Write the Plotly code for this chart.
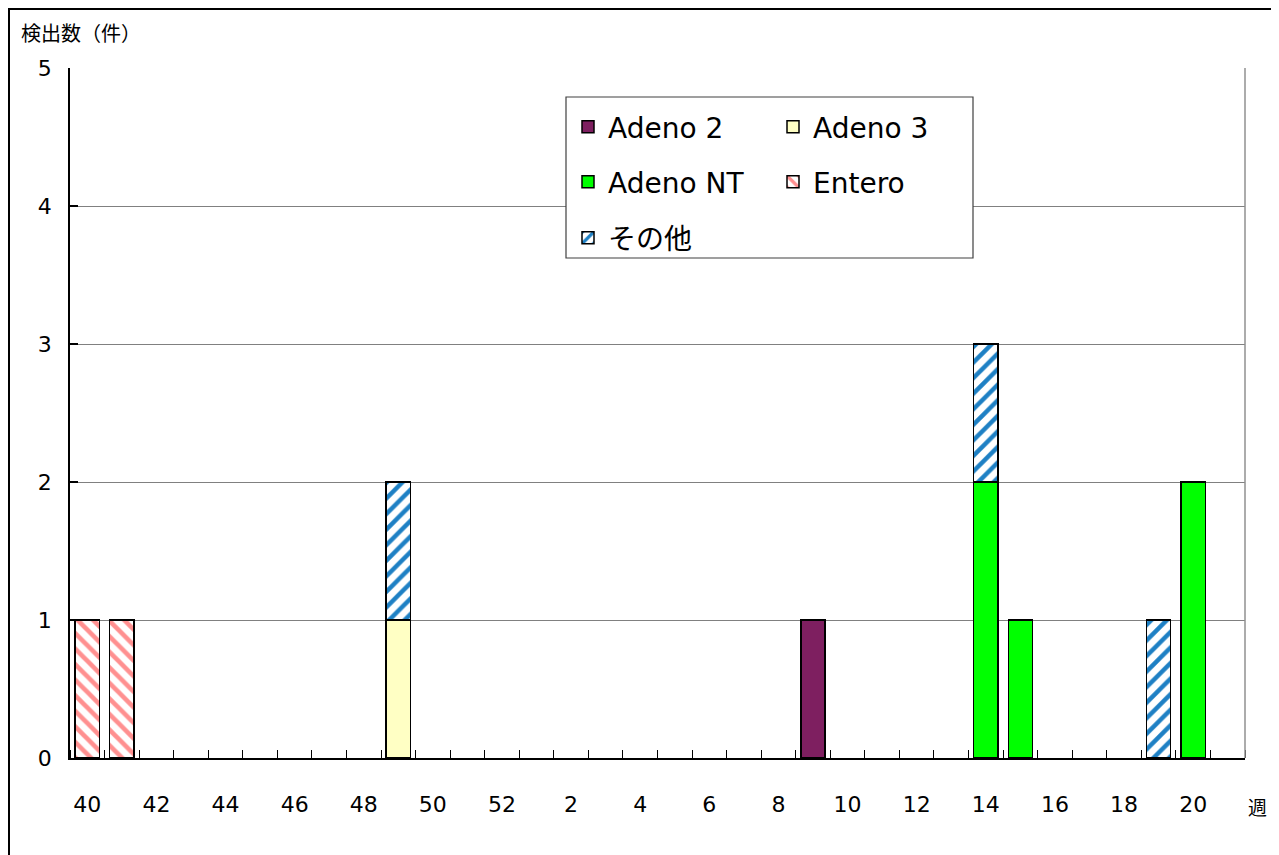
import plotly.graph_objects as go

# Weeks shown on the x axis (2 seasons: week 40..52, then 1..21)
weeks = [40, 41, 42, 43, 44, 45, 46, 47, 48, 49, 50, 51, 52,
         1, 2, 3, 4, 5, 6, 7, 8, 9, 10, 11, 12, 13, 14, 15, 16, 17, 18, 19, 20, 21]

# Detections per series (week, count)
adeno2_weeks = [9]
adeno2_counts = [1]
adeno3_weeks = [49]
adeno3_counts = [1]
adenont_weeks = [14, 15, 20]
adenont_counts = [2, 1, 2]
entero_weeks = [40, 41]
entero_counts = [1, 1]
other_weeks = [49, 14, 19]
other_counts = [1, 1, 1]

y_ticks = [0, 1, 2, 3, 4, 5]

FONT = "DejaVu Sans, Noto Sans CJK JP, sans-serif"
JP = "Noto Sans CJK JP, sans-serif"

def idx(ws):
    return [weeks.index(w) for w in ws]

fig = go.Figure()
line = dict(color="black", width=1.5)
fig.add_bar(name="Adeno 2", x=idx(adeno2_weeks), y=adeno2_counts,
            marker=dict(color="#7E1F60", line=line), legend="legend")
fig.add_bar(name="Adeno 3", x=idx(adeno3_weeks), y=adeno3_counts,
            marker=dict(color="#FFFFC4", line=line), legend="legend")
fig.add_bar(name="Adeno NT", x=idx(adenont_weeks), y=adenont_counts,
            marker=dict(color="#00FF00", line=line), legend="legend2")
fig.add_bar(name="Entero", x=idx(entero_weeks), y=entero_counts,
            marker=dict(color="white", line=line,
                        pattern=dict(shape="\\", fgcolor="#FF9090", bgcolor="white",
                                     size=11, solidity=0.42, fillmode="replace")),
            legend="legend2")
fig.add_bar(name="その他", x=idx(other_weeks), y=other_counts,
            marker=dict(color="white", line=line,
                        pattern=dict(shape="/", fgcolor="#1E80C4", bgcolor="white",
                                     size=11, solidity=0.4, fillmode="replace")),
            legend="legend3")

W, H = 1279, 855
OFF = 8  # page offset of the figure in the browser window
PL, PT, PR, PB = 70, 68, 1245, 758  # plot area in window pixels
pw, ph = PR - PL, PB - PT
L, T = PL - OFF, PT - OFF
R = W - L - pw
B = H - (PB - OFF)

def px_x(p):
    return (p - PL) / pw

def px_y(p):
    return (PB - p) / ph

tick_idx = list(range(0, len(weeks), 2))

legend_common = dict(orientation="h", xanchor="left", yanchor="middle",
                     bgcolor="rgba(0,0,0,0)", borderwidth=0,
                     font=dict(family=FONT, size=28, color="black"),
                     entrywidth=160, entrywidthmode="pixels", itemwidth=30,
                     traceorder="normal")

fig.update_layout(
    width=W, height=H,
    margin=dict(l=L, r=R, t=T, b=B, autoexpand=False),
    paper_bgcolor="white", plot_bgcolor="white",
    barmode="stack", bargap=0.3,
    showlegend=True,
    legend=dict(x=px_x(568), y=px_y(127), **legend_common),
    legend2=dict(x=px_x(568), y=px_y(182), **legend_common),
    legend3=dict(x=px_x(568), y=px_y(238), **legend_common),
    xaxis=dict(range=[-0.5, len(weeks) - 0.5], tickvals=tick_idx,
               ticktext=[str(weeks[i]) for i in tick_idx],
               ticks="", showgrid=False, zeroline=False,
               showline=True, linecolor="black", linewidth=1.5,
               ticklabelstandoff=26,
               tickfont=dict(family=FONT, size=22, color="black"),
               minor=dict(ticks="inside", tick0=-0.5, dtick=1, ticklen=8,
                          tickcolor="black", tickwidth=1, showgrid=False)),
    yaxis=dict(range=[0, 5], tickvals=y_ticks, ticks="inside", ticklen=8,
               tickcolor="black", tickwidth=1.5,
               showgrid=True, gridcolor="#808080", gridwidth=1, zeroline=False,
               showline=True, linecolor="black", linewidth=1.5,
               ticklabelstandoff=12,
               tickfont=dict(family=FONT, size=22, color="black")),
    shapes=[
        # right border of the plot area
        dict(type="line", xref="paper", yref="paper", x0=1, x1=1, y0=0, y1=1,
             line=dict(color="#909090", width=1.5), layer="above"),
        # legend box
        dict(type="rect", xref="paper", yref="paper",
             x0=px_x(566), x1=px_x(973), y0=px_y(258), y1=px_y(97),
             fillcolor="white", line=dict(color="#404040", width=1.2), layer="above"),
        # outer chart border
        dict(type="rect", xref="paper", yref="paper",
             x0=px_x(9), x1=px_x(1295), y0=px_y(875), y1=px_y(9),
             fillcolor="rgba(0,0,0,0)", line=dict(color="black", width=2), layer="above"),
    ],
    annotations=[
        dict(text="検出数（件）", xref="paper", yref="paper", x=px_x(19), y=px_y(32),
             xanchor="left", yanchor="middle", showarrow=False,
             font=dict(family=JP, size=20, color="black")),
        dict(text="週", xref="paper", yref="paper", x=px_x(1257), y=px_y(806),
             xanchor="center", yanchor="middle", showarrow=False,
             font=dict(family=JP, size=19, color="black")),
    ],
)

fig.write_html("out.html")
